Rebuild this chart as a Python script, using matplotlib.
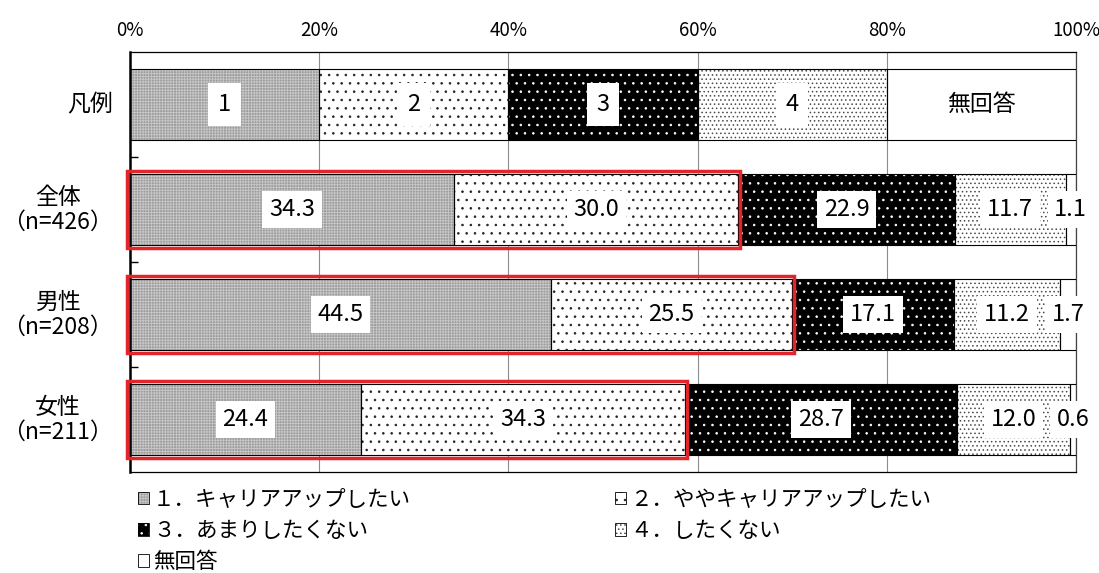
import matplotlib.pyplot as plt
from matplotlib.patches import Patch, Rectangle
from matplotlib.legend_handler import HandlerTuple

plt.rcParams['font.family'] = ['Noto Sans CJK JP', 'DejaVu Sans']
plt.rcParams['hatch.linewidth'] = 0.6

# data
categories = ['凡例', '全体\n（n=426）', '男性\n（n=208）', '女性\n（n=211）']
legend_row = [20, 20, 20, 20, 20]
legend_row_labels = ['1', '2', '3', '4', '無回答']
s1 = [34.3, 44.5, 24.4]
s2 = [30.0, 25.5, 34.3]
s3 = [22.9, 17.1, 28.7]
s4 = [11.7, 11.2, 12.0]
s5 = [1.1, 1.7, 0.6]
series_names = ['１．キャリアアップしたい', '２．ややキャリアアップしたい',
                '３．あまりしたくない', '４．したくない', '無回答']
xticks = [0, 20, 40, 60, 80, 100]
xtick_labels = ['0%', '20%', '40%', '60%', '80%', '100%']

# face colour, hatch colour, hatch pattern for each series
styles = [
    ('#9c9c9c', '#c8c8c8', '++++++'),
    ('white', '#222222', '..'),
    ('black', 'white', '..'),
    ('white', '#4a4a4a', '....'),
    ('white', 'white', ''),
]

fig = plt.figure(figsize=(10.99, 5.73), dpi=100)
ax = fig.add_axes([130 / 1099, 1 - 472 / 573, 946 / 1099, 420 / 573])

rows = [legend_row] + [list(v) for v in zip(s1, s2, s3, s4, s5)]
bar_h = 0.67

for i, vals in enumerate(rows):
    left = 0
    for j, v in enumerate(vals):
        fc, hc, hatch = styles[j]
        ax.barh(i, v, left=left, height=bar_h, color=fc, edgecolor=hc,
                hatch=hatch, linewidth=0, zorder=2)
        ax.barh(i, v, left=left, height=bar_h, fill=False, edgecolor='black',
                linewidth=0.8, zorder=3)
        cx = left + v / 2
        if i == 0:
            txt = legend_row_labels[j]
            if j < 4:
                ax.text(cx, i, txt, ha='center', va='center', fontsize=17,
                        bbox=dict(facecolor='white', edgecolor='none', pad=7),
                        zorder=5)
            else:
                ax.text(cx, i, txt, ha='center', va='center', fontsize=16.5, zorder=5)
        else:
            ax.text(cx, i, f'{v:.1f}', ha='center', va='center', fontsize=17,
                    bbox=dict(facecolor='white', edgecolor='none', pad=5),
                    zorder=5)
        left += v

# red frames around 1+2
for i in range(1, 4):
    w = s1[i - 1] + s2[i - 1]
    ax.add_patch(Rectangle((-0.3, i - 0.365), w + 0.5, 0.73, fill=False,
                           edgecolor='#e3242b', linewidth=2.5, zorder=6,
                           clip_on=False))

ax.set_xlim(0, 100)
ax.set_ylim(3.5, -0.5)
ax.set_xticks(xticks)
ax.set_xticklabels(xtick_labels, fontsize=13.5)
ax.xaxis.tick_top()
ax.tick_params(axis='x', length=0, pad=8)
ax.grid(axis='x', color='#8c8c8c', linewidth=0.8, zorder=0)

ax.set_yticks([0.5, 1.5, 2.5])
ax.set_yticklabels([])
ax.tick_params(axis='y', direction='in', length=6, width=1)

for sp in ax.spines.values():
    sp.set_linewidth(0.9)
ax.spines['left'].set_linewidth(1.8)
ax.spines['right'].set_color('#444444')

for i, c in enumerate(categories):
    ax.text(-0.018, i, c, transform=ax.get_yaxis_transform(), ha='right',
            va='center', multialignment='center', fontsize=16.5, linespacing=1.1)

# legend below the plot
handles = []
for fc, hc, hatch in styles:
    handles.append((Patch(facecolor=fc, edgecolor=hc, hatch=hatch, linewidth=0),
                    Patch(fill=False, edgecolor='black', linewidth=0.6)))

common = dict(frameon=False, fontsize=15.5, handlelength=0.5, handleheight=0.5,
              handletextpad=0.2, labelspacing=0.42, borderpad=0, borderaxespad=0,
              handler_map={tuple: HandlerTuple(ndivide=1, pad=0)})
leg1 = fig.legend([handles[0], handles[2], handles[4]],
                  [series_names[0], series_names[2], series_names[4]],
                  loc='upper left', bbox_to_anchor=(138 / 1099, 1 - 489 / 573), **common)
leg2 = fig.legend([handles[1], handles[3]], [series_names[1], series_names[3]],
                  loc='upper left', bbox_to_anchor=(615 / 1099, 1 - 489 / 573), **common)

fig.savefig('out.png', dpi=100)
